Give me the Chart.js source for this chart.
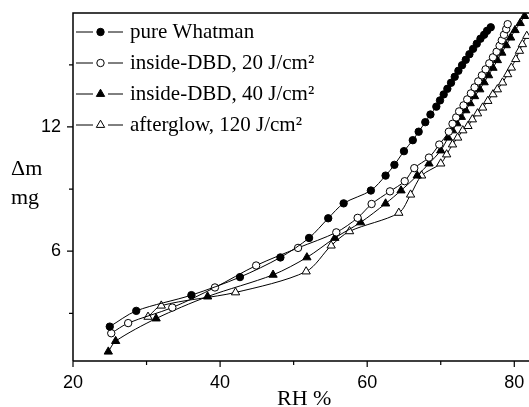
<!DOCTYPE html>
<html>
<head>
<meta charset="utf-8">
<script src="https://cdn.jsdelivr.net/npm/chart.js@4/dist/chart.umd.min.js"></script>
<style>
body { margin: 0; background: #fff; }
#wrap { width: 529px; height: 407px; position: relative; }
</style>
</head>
<body>
<div id="wrap"><canvas id="chart"></canvas></div>
<script>
// values (RH in %, mass gain in mg)
const whatmanRH = [25.0, 28.6, 36.1, 42.7, 48.2, 52.1, 54.7, 56.8, 60.5, 62.5, 63.7, 65.0, 66.2, 67.0, 67.9, 68.6,
  69.4, 69.9, 70.4, 70.9, 71.4, 71.9, 72.4, 72.9, 73.4, 73.9, 74.4, 74.9, 75.4, 75.9, 76.3, 76.8];
const whatmanDm = [2.36, 3.12, 3.88, 4.75, 5.70, 6.64, 7.59, 8.31, 8.93, 9.65, 10.17, 10.83, 11.36, 11.77, 12.23, 12.60,
  12.98, 13.28, 13.57, 13.84, 14.13, 14.42, 14.71, 14.98, 15.24, 15.51, 15.77, 16.02, 16.26, 16.45, 16.64, 16.81];

const dbd20RH = [25.2, 27.5, 33.5, 39.3, 44.9, 50.6, 55.8, 58.7, 60.6, 63.1, 65.1, 66.4, 68.4, 69.8,
  71.1, 71.6, 72.1, 72.5, 73.1, 73.6, 74.1, 74.6, 75.1, 75.6, 76.1, 76.6, 77.1, 77.6, 78.0, 78.3, 78.6, 78.9, 79.1];
const dbd20Dm = [2.04, 2.53, 3.28, 4.25, 5.31, 6.16, 6.91, 7.61, 8.28, 8.89, 9.38, 10.01, 10.52, 11.15,
  11.77, 12.15, 12.46, 12.75, 13.04, 13.33, 13.62, 13.91, 14.20, 14.49, 14.78, 15.07, 15.36, 15.63, 15.92, 16.18, 16.45, 16.72, 16.96];

const dbd40RH = [24.8, 25.8, 31.3, 38.3, 47.2, 51.8, 55.6, 59.1, 62.5, 64.6, 66.8, 68.4, 70.0,
  71.0, 71.6, 72.2, 72.8, 73.4, 74.0, 74.6, 75.3, 75.9, 76.5, 77.1, 77.7, 78.3, 78.9, 79.5, 80.1, 80.8, 81.4];
const dbd40Dm = [1.15, 1.66, 2.75, 3.81, 4.86, 5.70, 6.64, 7.39, 8.30, 8.93, 9.65, 10.23, 10.86,
  11.48, 11.83, 12.17, 12.48, 12.80, 13.14, 13.48, 13.81, 14.15, 14.49, 14.85, 15.22, 15.58, 15.94, 16.31, 16.67, 17.01, 17.35];

const afterglowRH = [30.2, 32.0, 42.1, 51.7, 55.1, 57.6, 64.3, 65.9, 67.4, 70.0, 70.8, 71.6, 72.3, 73.0,
  73.7, 74.3, 75.0, 75.7, 76.4, 77.1, 77.7, 78.4, 79.1, 79.6, 80.2, 80.7, 81.1, 81.7];
const afterglowDm = [2.83, 3.37, 4.01, 5.02, 6.27, 6.96, 7.85, 8.73, 9.65, 10.23, 10.67, 11.15, 11.48, 11.83,
  12.04, 12.36, 12.65, 12.93, 13.25, 13.57, 13.81, 14.14, 14.54, 14.86, 15.27, 15.67, 15.99, 16.39];

const seriesNames = ['pure Whatman', 'inside-DBD, 20 J/cm\u00B2', 'inside-DBD, 40 J/cm\u00B2', 'afterglow, 120 J/cm\u00B2'];
const xTicks = [20, 30, 40, 50, 60, 70, 80];
const yTicks = [3, 6, 9, 12, 15];

function pts(xs, ys) {
  return xs.map((x, i) => ({ x: x, y: ys[i] }));
}

const styles = [
  { pointStyle: 'circle', radius: 3.7, fill: '#000' },
  { pointStyle: 'circle', radius: 3.7, fill: '#fff' },
  { pointStyle: 'triangle', radius: 4.8, fill: '#000' },
  { pointStyle: 'triangle', radius: 4.8, fill: '#fff' }
];

const raw = [[whatmanRH, whatmanDm], [dbd20RH, dbd20Dm], [dbd40RH, dbd40Dm], [afterglowRH, afterglowDm]];

const datasets = raw.map((r, i) => ({
  label: seriesNames[i],
  data: pts(r[0], r[1]),
  borderColor: '#000',
  borderWidth: 1,
  tension: 0.3,
  pointStyle: styles[i].pointStyle,
  pointRadius: styles[i].radius,
  pointBackgroundColor: styles[i].fill,
  pointBorderColor: '#000',
  pointBorderWidth: 1
}));

const serif = '"Liberation Serif", "Times New Roman", serif';

// kill the automatic label overflow padding so the plot box sits where the original one does
function noPad(s) {
  s.paddingTop = 0; s.paddingBottom = 0; s.paddingLeft = 0; s.paddingRight = 0;
}

const extras = {
  id: 'extras',
  afterDraw(chart) {
    const ctx = chart.ctx;
    const a = chart.chartArea;
    const xs = chart.scales.x, ys = chart.scales.y;
    ctx.save();
    ctx.strokeStyle = '#000';
    ctx.lineWidth = 1.5;
    ctx.beginPath();
    ctx.moveTo(a.left, a.bottom);
    ctx.lineTo(a.left, a.top);
    ctx.lineTo(a.right, a.top);
    ctx.moveTo(a.left, a.bottom);
    ctx.lineTo(a.right, a.bottom);
    ctx.stroke();

    // tick marks, longer for labelled ones
    ctx.lineWidth = 1.2;
    ctx.beginPath();
    xTicks.forEach(v => {
      const px = xs.getPixelForValue(v);
      const len = v % 20 === 0 ? 6 : 4;
      ctx.moveTo(px, a.bottom);
      ctx.lineTo(px, a.bottom + len);
    });
    yTicks.forEach(v => {
      const py = ys.getPixelForValue(v);
      const len = v % 6 === 0 ? 6 : 4;
      ctx.moveTo(a.left, py);
      ctx.lineTo(a.left - len, py);
    });
    ctx.stroke();

    // axis titles
    ctx.fillStyle = '#000';
    ctx.font = '22px ' + serif;
    ctx.textAlign = 'left';
    ctx.textBaseline = 'alphabetic';
    ctx.fillText('\u0394m', 11, 175);
    ctx.fillText('mg', 11, 204);
    ctx.fillText('RH %', 277, 405);

    // legend
    ctx.font = '21px ' + serif;
    ctx.textBaseline = 'middle';
    const rows = [32, 63, 94, 125];
    rows.forEach((y, i) => {
      ctx.lineWidth = 1;
      ctx.strokeStyle = '#000';
      ctx.beginPath();
      ctx.moveTo(76, y);
      ctx.lineTo(93, y);
      ctx.moveTo(108, y);
      ctx.lineTo(123, y);
      ctx.stroke();
      ctx.fillStyle = styles[i].fill;
      Chart.helpers.drawPoint(ctx, {
        pointStyle: styles[i].pointStyle,
        radius: styles[i].radius,
        rotation: 0,
        borderWidth: 1
      }, 100.5, y);
      ctx.fillStyle = '#000';
      ctx.fillText(seriesNames[i], 130, y);
    });
    ctx.restore();
  }
};

new Chart(document.getElementById('chart'), {
  type: 'line',
  data: { datasets: datasets },
  plugins: [extras],
  options: {
    responsive: true,
    maintainAspectRatio: false,
    animation: false,
    layout: { padding: { top: 13, right: 0, left: 0, bottom: 0 }, autoPadding: false },
    plugins: { legend: { display: false }, tooltip: { enabled: false } },
    scales: {
      x: {
        type: 'linear',
        min: 20,
        max: 82,
        afterBuildTicks: s => { s.ticks = xTicks.map(v => ({ value: v })); },
        afterFit: s => { s.height = 46; noPad(s); },
        grid: { display: false },
        border: { display: false },
        ticks: {
          color: '#000',
          padding: 3,
          maxRotation: 0,
          autoSkip: false,
          font: { family: '"Liberation Sans", Arial, sans-serif', size: 18 },
          callback: v => (v % 20 === 0 ? String(v) : '')
        }
      },
      y: {
        type: 'linear',
        min: 0.7,
        max: 17.5,
        afterBuildTicks: s => { s.ticks = yTicks.map(v => ({ value: v })); },
        afterFit: s => { s.width = 73; noPad(s); },
        grid: { display: false },
        border: { display: false },
        ticks: {
          color: '#000',
          padding: 4,
          autoSkip: false,
          font: { family: '"Liberation Sans", Arial, sans-serif', size: 18 },
          callback: v => (v % 6 === 0 ? String(v) : '')
        }
      }
    }
  }
});
</script>
</body>
</html>
